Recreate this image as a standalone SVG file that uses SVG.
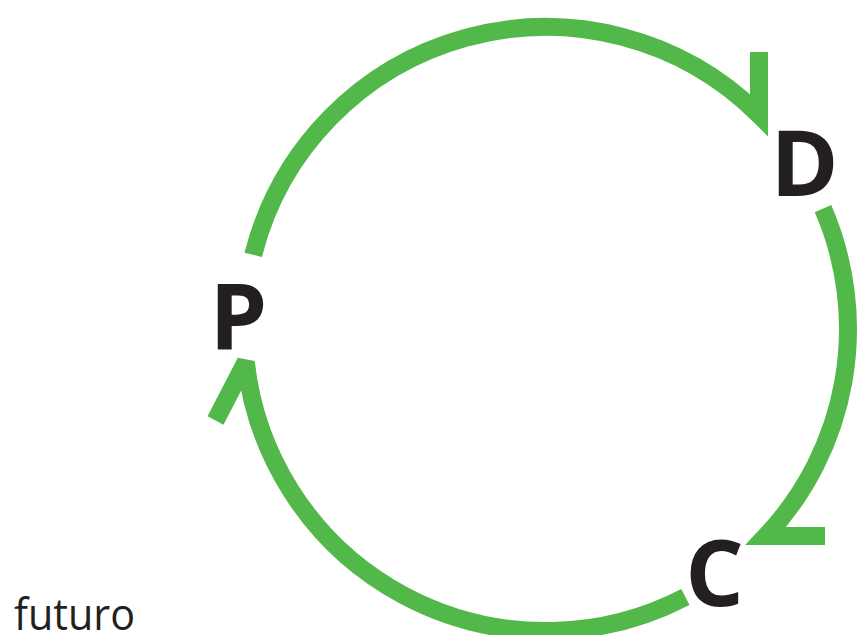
<svg xmlns="http://www.w3.org/2000/svg" width="858" height="635" viewBox="0 0 858 635">
  <style>
    .arc { fill: none; stroke: #53b84a; stroke-width: 18; stroke-linecap: butt; stroke-linejoin: miter; stroke-miterlimit: 3; }
    .lbl { font-family: "Open Sans", "Noto Sans", "Liberation Sans", sans-serif; font-weight: 700; font-size: 92px; fill: #231f20; text-anchor: middle; }
    .note { font-family: "Open Sans", "Noto Sans", "Liberation Sans", sans-serif; font-size: 44px; fill: #231f20; }
  </style>
  <rect width="858" height="635" fill="#ffffff"/>
  <g id="connectors">
    <path id="p-to-d" class="arc" d="M 253.2 254.9 A 302 302 0 0 1 759 114.9 L 759 52"/>
    <path id="d-to-c" class="arc" d="M 823 208.7 A 302 302 0 0 1 765.9 536 L 825 536"/>
    <path id="c-to-p" class="arc" d="M 685.4 596.9 A 302 302 0 0 1 245.8 362 L 215.5 420.5"/>
  </g>
  <g id="node-P"><text class="lbl" x="238.5" y="349">P</text></g>
  <g id="node-D"><text class="lbl" x="804.5" y="196">D</text></g>
  <g id="node-C"><text class="lbl" x="714.5" y="606">C</text></g>
  <g id="label-futuro"><text class="note" x="14" y="630" textLength="121" lengthAdjust="spacingAndGlyphs">futuro</text></g>
</svg>
